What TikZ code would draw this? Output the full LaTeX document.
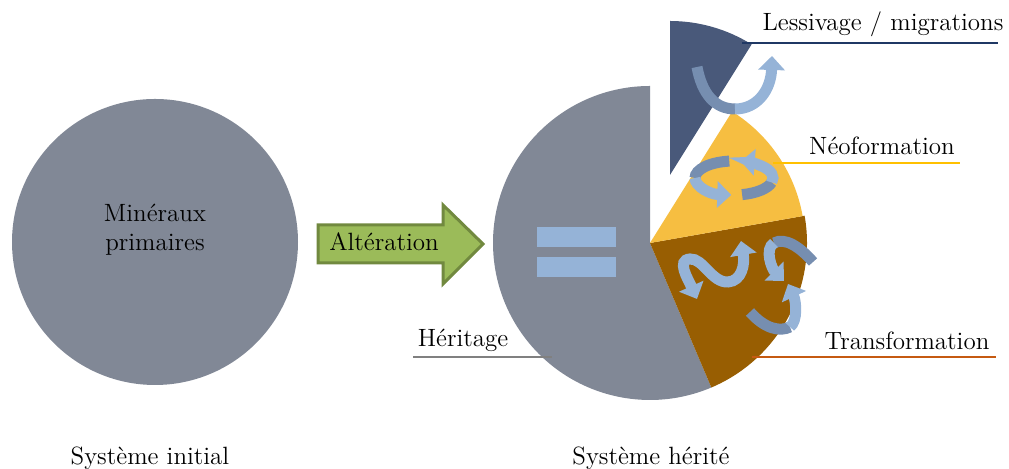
\documentclass[tikz,border=0pt]{standalone}
\usepackage{tikz}
\usetikzlibrary{arrows.meta}
\definecolor{pieGray}{RGB}{129,136,150}
\definecolor{pieNavy}{RGB}{73,89,122}
\definecolor{pieYellow}{RGB}{246,190,65}
\definecolor{pieBrown}{RGB}{152,94,2}
\definecolor{ribbonLight}{RGB}{149,179,215}
\definecolor{ribbonDark}{RGB}{118,142,176}
\definecolor{arrowGreen}{RGB}{155,187,89}
\definecolor{arrowBorder}{RGB}{113,137,63}
\definecolor{leadNavy}{RGB}{31,56,100}
\definecolor{leadGold}{RGB}{255,192,0}
\definecolor{leadBrown}{RGB}{197,90,17}
\definecolor{leadGray}{RGB}{128,128,128}
\tikzset{
  txt/.style={font=\fontsize{12.5}{14.5}\selectfont, inner sep=0pt},
  lead/.style={line width=1pt},
  ribbon/.style={line width=5.5pt, ribbonLight, -{Triangle[width=13pt,length=7pt]}},
  ribbon back/.style={line width=5.5pt, ribbonDark},
  ribbon both/.style={line width=5.5pt, ribbonLight, {Triangle[width=13pt,length=7pt]}-{Triangle[width=13pt,length=7pt]}}
}

\begin{document}
\begin{tikzpicture}[x=0.5pt,y=0.5pt]
  \useasboundingbox (0,0) rectangle (1009,469);

  % initial system
  \fill[pieGray] (155,227) circle (143);
  \node[txt, align=center] (mineraux) at (155,239) {Minéraux\\primaires};
  \node[txt] (initial) at (150,11) {Système initial};

  % alteration arrow
  \filldraw[fill=arrowGreen, draw=arrowBorder, line width=1.5pt]
    (318,244) -- (443,244) -- (443,264) -- (483,225) -- (443,185) -- (443,206) -- (318,206) -- cycle;
  \node[txt] (alteration) at (384,227) {Altération};

  % inherited system
  \coordinate (centre) at (650,226);
  \fill[pieGray] (centre) -- ++(90:157) arc (90:293:157) -- cycle;
  \fill[pieBrown] (centre) -- ++(-67:157) arc (-67:10:157) -- cycle;
  \fill[pieYellow] (centre) -- ++(10:155) arc (10:58:155) -- cycle;
  \fill[pieNavy] (670,294) -- ++(58:154) arc (58:90:154) -- cycle;
  \node[txt] (herite) at (651,11) {Système hérité};

  % equal sign
  \foreach \y in {192,222}
    \fill[ribbonLight] (537,\y) rectangle (616,\y+20);

  % lessivage ribbon
  \draw[ribbon back] (697,402) .. controls (702,375) and (715,360) .. (735,360);
  \draw[ribbon] (735,360) .. controls (758,360) and (771,380) .. (772,413);

  % neoformation ribbons
  \draw[ribbon back] ([shift={(97:39 and 17)}]734,291) arc[start angle=97, end angle=180, x radius=39, y radius=17];
  \draw[ribbon back] ([shift={(282:39 and 17)}]734,291) arc[start angle=282, end angle=345, x radius=39, y radius=17];
  \draw[ribbon] ([shift={(-15:39 and 17)}]734,291) arc[start angle=-15, end angle=80, x radius=39, y radius=17];
  \draw[ribbon] ([shift={(180:39 and 17)}]734,291) arc[start angle=180, end angle=266, x radius=39, y radius=17];

  % transformation ribbons
  \draw[ribbon both] (697,170) .. controls (688,190) and (676,209) .. (690,210)
    .. controls (703,211) and (712,186) .. (728,187) .. controls (742,188) and (745,205) .. (741,228);
  \draw[ribbon back] (813,207) .. controls (800,222) and (785,232) .. (774,226);
  \draw[ribbon] (774,226) .. controls (764,220) and (772,200) .. (784,188);
  \draw[ribbon back] (750,157) .. controls (765,140) and (780,137) .. (790,142);
  \draw[ribbon] (790,142) .. controls (798,148) and (796,168) .. (788,185);

  % labels and leaders
  \node[txt] (lessivage) at (883,445) {Lessivage / migrations};
  \coordinate (lessivage w) at (742,426);
  \coordinate (lessivage e) at (998,426);
  \draw[lead, leadNavy] (lessivage w) -- (lessivage e);

  \node[txt] (neo) at (882,323) {Néoformation};
  \coordinate (neo w) at (773,306);
  \coordinate (neo e) at (960,306);
  \draw[lead, leadGold] (neo w) -- (neo e);

  \node[txt] (transfo) at (907,128) {Transformation};
  \coordinate (transfo w) at (752,112);
  \coordinate (transfo e) at (996,112);
  \draw[lead, leadBrown] (transfo w) -- (transfo e);

  \node[txt] (heritage) at (463,129) {Héritage};
  \coordinate (heritage w) at (413,112);
  \coordinate (heritage e) at (552,112);
  \draw[lead, leadGray] (heritage w) -- (heritage e);
\end{tikzpicture}
\end{document}
